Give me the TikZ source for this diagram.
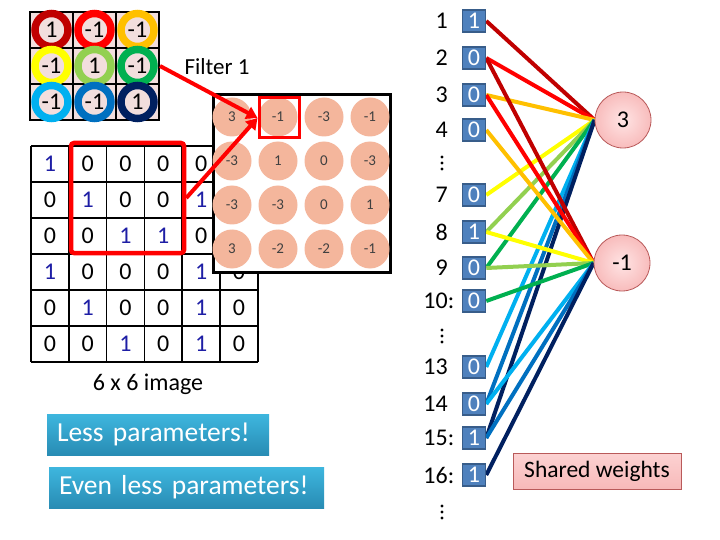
\documentclass[tikz,border=0pt]{standalone}
\usepackage{fontspec}
\setmainfont{Carlito}
\usetikzlibrary{arrows.meta,shadings}
\pgfdeclarelayer{bg}
\pgfsetlayers{bg,main}
\newcommand\fsz[1]{\fontsize{#1}{#1}\selectfont}
\definecolor{cDR}{RGB}{192,0,0}
\definecolor{cR}{RGB}{255,0,0}
\definecolor{cO}{RGB}{255,192,0}
\definecolor{cY}{RGB}{255,255,0}
\definecolor{cLG}{RGB}{146,208,80}
\definecolor{cG}{RGB}{0,176,80}
\definecolor{cLB}{RGB}{0,176,240}
\definecolor{cB}{RGB}{0,112,192}
\definecolor{cN}{RGB}{0,32,96}
\definecolor{cellpink}{RGB}{242,222,221}
\definecolor{imgblue}{RGB}{30,30,165}
\definecolor{salmon}{RGB}{244,182,156}
\definecolor{boxblue}{RGB}{79,129,189}
\definecolor{boxedge}{RGB}{56,93,138}
\definecolor{nborder}{RGB}{185,90,90}
\begin{document}
\begin{tikzpicture}[x=1pt,y=-1pt,
  num/.style={font=\fsz{24}, inner sep=0},
  gl/.style={line width=1.6pt, black},
  fcirc/.style={circle, fill=salmon, minimum size=39pt, inner sep=0, font=\fsz{15}, text=black!75},
  arr/.style={cR, line width=4pt, -{Triangle[length=11pt,width=13pt]}},
  inbox/.style={draw=boxedge, line width=1.5pt, fill=boxblue, text=white, minimum width=23pt, minimum height=22pt, inner sep=0, font=\fsz{24}},
  lab/.style={font=\fsz{24}, inner sep=0},
  neuron/.style={circle, draw=nborder, line width=0.8pt, inner color={rgb,255:red,255;green,228;blue,228}, outer color={rgb,255:red,248;green,188;blue,188}, minimum size=56pt, inner sep=0, font=\fsz{24}},
  conn/.style={line width=4pt},
  btn/.style={top color={rgb,255:red,62;green,182;blue,222}, bottom color={rgb,255:red,40;green,140;blue,180}, text=white, font=\fsz{27.5}, align=left, minimum height=41pt, inner xsep=10pt, inner ysep=0},
]
\useasboundingbox (0,0) rectangle (720,540);
\begin{pgfonlayer}{bg}
\fill[white] (0,0) rectangle (720,540);
\end{pgfonlayer}

% ---------- filter ----------
\node[minimum width=129pt, minimum height=108pt, fill=cellpink, draw, line width=2pt, inner sep=0] (filt) at (94.5,66) {};
\foreach \x in {73,116} \draw[gl] (\x,12) -- (\x,120);
\foreach \y in {48,84} \draw[gl] (30,\y) -- (159,\y);
\foreach \x/\y/\c/\v [count=\k] in {51.5/30/cDR/1, 94.5/30/cR/-1, 137.5/30/cO/-1,
    51.5/66/cY/-1, 94.5/66/cLG/1, 137.5/66/cG/-1,
    51.5/102/cLB/-1, 94.5/102/cB/-1, 137.5/102/cN/1}{
  \draw[\c, line width=7.5pt] (\x,\y) circle[radius=16.5pt];
  \node[num] (f\k) at (\x,\y) {\v};
}
\node[font=\fsz{23}] (ftitle) at (217,67) {Filter 1};

% ---------- image ----------
\foreach \i in {0,...,6} \draw[gl] ({31+37.8*\i},146) -- ({31+37.8*\i},362);
\foreach \j in {0,...,6} \draw[gl] (31,{146+36*\j}) -- (257.8,{146+36*\j});
\foreach \row [count=\r] in {{1,0,0,0,0},{0,1,0,0,1},{0,0,1,1,0},{1,0,0,0,1,0},{0,1,0,0,1,0},{0,0,1,0,1,0}}{
  \foreach \v [count=\c] in \row {
    \node[num] (m\r-\c) at ({31+37.8*\c-18.9},{146+36*\r-18}) {\ifnum\v=1 \color{imgblue}\fi\v};
  }
}
\node[draw=cR, line width=4.5pt, rounded corners=3pt, minimum width=113pt, minimum height=110pt, inner sep=0] (rbox) at (127.5,198) {};
\node[font=\fsz{24}] (cap) at (148,384) {6 x 6 image};

% ---------- feature map ----------
\node[draw, line width=3pt, fill=white, minimum width=177pt, minimum height=177pt, inner sep=0] (fmap) at (301.5,183.5) {};
\foreach \row [count=\r] in {{3,-1,-3,-1},{-3,1,0,-3},{-3,-3,0,1},{3,-2,-2,-1}}{
  \foreach \v [count=\c] in \row {
    \node[fcirc] (c\r-\c) at ({232+46*(\c-1)},{117+44*(\r-1)}) {\v};
  }
}
\node[draw=cR, line width=3pt, minimum size=40pt, inner sep=0] (sel) at (279,118) {};
\draw[arr] (filt.east) -- (sel.west);
\draw[arr] (rbox.east) -- (sel.west);

% ---------- buttons ----------
\node[btn, text width=202pt] (less) at (158,434.5) {Less parameters!};
\node[btn, text width=255pt] (eless) at (186.5,487.5) {Even less parameters!};

% ---------- input vector ----------
\foreach \n/\y/\v/\lab in {1/21/1/1, 2/58/0/2, 3/95/0/3, 4/130/0/4, 7/195/0/7, 8/232/1/8, 9/268/0/9, 10/301/0/10\rlap{:}, 13/367/0/13, 14/404/0/14, 15/438/1/15\rlap{:}, 16/475/1/16\rlap{:}}{
  \node[inbox] (x\n) at (474,\y) {\v};
  \node[lab, anchor=east] (l\n) at (448,\y) {\lab};
}
\foreach \y in {157,163,169, 330,336,342, 506,512,518} \fill (442,\y) circle[radius=1.7pt];

\node[neuron] (n3) at (623,120) {3};
\node[neuron] (nm) at (622,263) {-1};

\begin{pgfonlayer}{bg}
\foreach \s/\c in {1/cDR,2/cR,3/cO,7/cY,8/cLG,9/cG,13/cLB,14/cB,15/cN}
  \draw[conn,\c] (x\s.east) -- (n3.west);
\foreach \s/\c in {2/cDR,3/cR,4/cO,8/cY,9/cLG,10/cG,14/cLB,15/cB,16/cN}
  \draw[conn,\c] (x\s.east) -- (nm.west);
\end{pgfonlayer}

\node[draw=nborder, line width=0.8pt, top color={rgb,255:red,252;green,210;blue,210}, bottom color={rgb,255:red,247;green,185;blue,185}, minimum width=168pt, minimum height=36pt, inner sep=0, font=\fsz{23.5}] (shared) at (597,471) {Shared weights};
\end{tikzpicture}
\end{document}
